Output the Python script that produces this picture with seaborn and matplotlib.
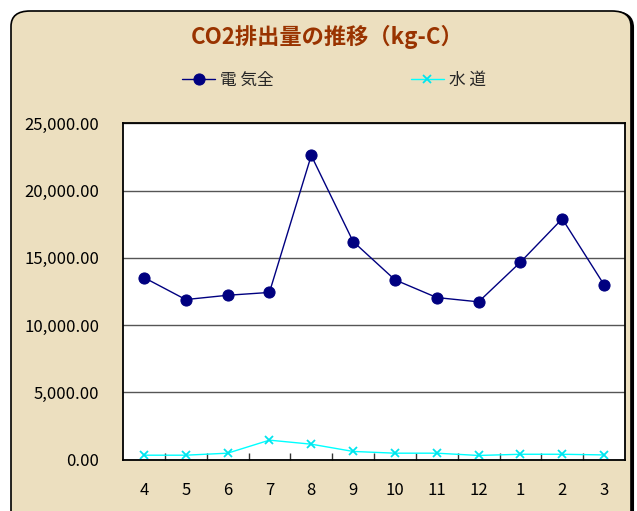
import matplotlib
matplotlib.use("Agg")
import matplotlib.pyplot as plt
import seaborn as sns
import pandas as pd
from matplotlib.patches import FancyBboxPatch
from matplotlib.ticker import FuncFormatter, FixedLocator

months = ["4", "5", "6", "7", "8", "9", "10", "11", "12", "1", "2", "3"]
denki = [13540, 11900, 12220, 12430, 22620, 16220, 13370, 12050, 11730, 14680, 17910, 13000]
suido = [320, 320, 470, 1440, 1140, 600, 470, 470, 300, 390, 390, 340]

df = pd.DataFrame({"month": months, "pos": range(len(months)), "電 気全": denki, "水 道": suido})

sns.set_theme(style="white")
plt.rcParams["font.family"] = ["Noto Sans CJK JP", "DejaVu Sans"]

fig = plt.figure(figsize=(6.37, 5.11), dpi=100, facecolor="white")

# rounded parchment frame with a little shadow on right/bottom
shadow = FancyBboxPatch((13 / 637, -20 / 511), 620 / 637, 519 / 511,
                        boxstyle="round,pad=0,rounding_size=0.03",
                        transform=fig.transFigure, facecolor="black",
                        edgecolor="black", lw=1.5, zorder=-3)
frame = FancyBboxPatch((11 / 637, -18 / 511), 620 / 637, 518 / 511,
                       boxstyle="round,pad=0,rounding_size=0.03",
                       transform=fig.transFigure, facecolor="#ECDFBF",
                       edgecolor="black", lw=1.2, zorder=-2)
fig.patches.extend([shadow, frame])

ax = fig.add_axes([123 / 637, 51.5 / 511, 502 / 637, 336 / 511])
ax.set_facecolor("white")

sns.lineplot(data=df, x="pos", y="電 気全", ax=ax, color="#000080", lw=1,
             marker="o", markersize=8, markeredgecolor="#000080", label="電 気全", legend=False)
sns.lineplot(data=df, x="pos", y="水 道", ax=ax, color="#00FFFF", lw=1,
             marker="x", markersize=6, markeredgewidth=1.3, markeredgecolor="#00E5EE",
             label="水 道", legend=False)

ax.set_xlim(-0.5, len(months) - 0.5)
ax.set_ylim(0, 25000)
ax.set_yticks(range(0, 25001, 5000))
ax.yaxis.set_major_formatter(FuncFormatter(lambda v, p: f"{v:,.2f}"))
ax.yaxis.grid(True, color="#555555", lw=1)
ax.set_axisbelow(True)

ax.set_xticks(range(len(months)))
ax.set_xticklabels(months)
ax.xaxis.set_minor_locator(FixedLocator([i + 0.5 for i in range(len(months) - 1)]))
ax.tick_params(axis="x", which="major", length=0, pad=16, labelsize=12, labelcolor="black")
ax.tick_params(axis="x", which="minor", direction="in", length=5, width=1, color="#333333", bottom=True)
ax.tick_params(axis="y", length=0, pad=17, labelsize=12, labelcolor="black")
ax.set_xlabel("")
ax.set_ylabel("")

for s in ax.spines.values():
    s.set_color("black")
    s.set_linewidth(1.3)

fig.text(327 / 637, 1 - 37 / 511, "CO2排出量の推移（kg-C）", ha="center", va="center",
         fontsize=16, fontweight="bold", color="#993300")

handles, labels = ax.get_legend_handles_labels()
fig.legend(handles, labels, ncol=2, loc="center", bbox_to_anchor=(334 / 637, 1 - 80 / 511),
           frameon=False, fontsize=12, columnspacing=8.2, handlelength=2.0, handletextpad=0.3)

fig.savefig("out.png", dpi=100, facecolor="white")
